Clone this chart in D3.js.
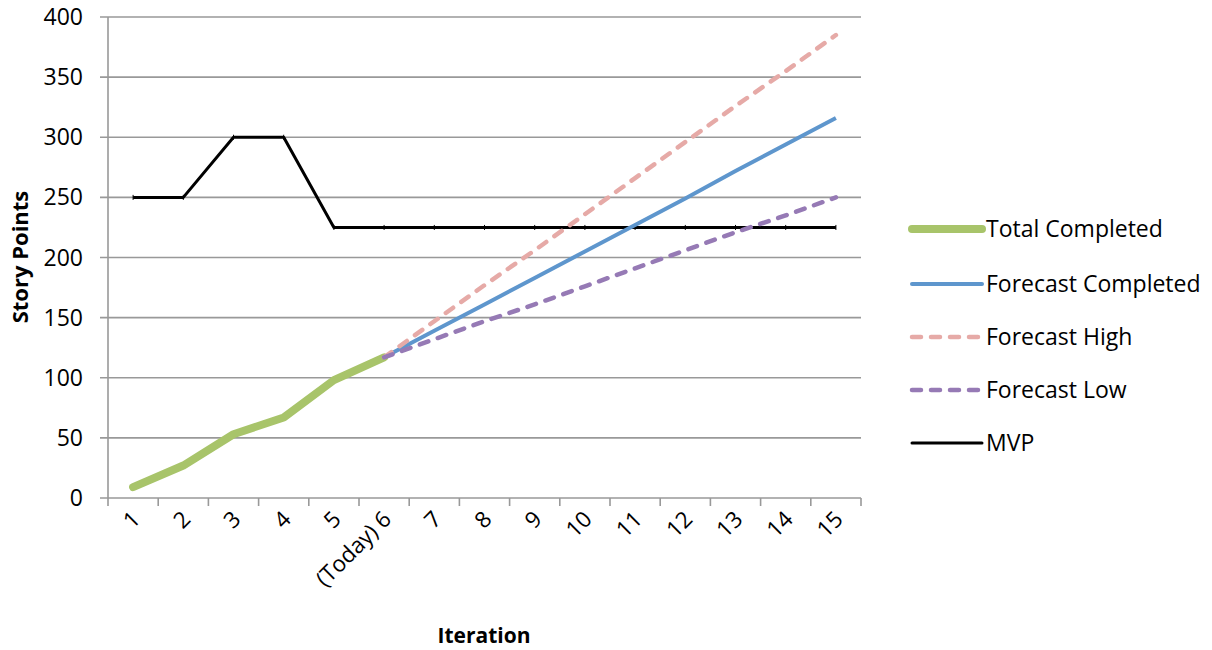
<!DOCTYPE html>
<html><head><meta charset="utf-8">
<script src="https://cdn.jsdelivr.net/npm/d3@7/dist/d3.min.js"></script>
<style>body{margin:0;background:#fff}svg{display:block}text{font-family:"Open Sans",sans-serif;fill:#000}</style>
</head><body><svg id="c" width="1212" height="650"></svg>
<script>
const categories = ["1","2","3","4","5","(Today) 6","7","8","9","10","11","12","13","14","15"];
const yTicks = [0,50,100,150,200,250,300,350,400];
const totalCompleted = [9,27,53,67,98,117,null,null,null,null,null,null,null,null,null];
const forecastCompleted = [null,null,null,null,null,117,139,161,183,205,227,249,272,294,316];
const forecastHigh = [null,null,null,null,null,117,147,177,206,236,266,296,326,355,385];
const forecastLow = [null,null,null,null,null,117,132,147,161,176,191,206,221,235,250];
const mvp = [250,250,300,300,225,225,225,225,225,225,225,225,225,225,225];

const series = [
  {name:"Total Completed", values: totalCompleted, color:"#a8c46a", width:8, dash:null},
  {name:"Forecast Completed", values: forecastCompleted, color:"#5e96cd", width:4, dash:null},
  {name:"Forecast High", values: forecastHigh, color:"#e6aaa7", width:4.5, dash:"9,10"},
  {name:"Forecast Low", values: forecastLow, color:"#967ab5", width:4.5, dash:"9,10"},
  {name:"MVP", values: mvp, color:"#000", width:3, dash:null}
];

const svg = d3.select("#c");
const L=108, R=861, T=17, B=498;
const x = d3.scaleBand().domain(categories).range([L,R]);
const y = d3.scaleLinear().domain([0,400]).range([B,T]);

svg.append("g").selectAll("line").data(yTicks).join("line")
  .attr("x1",L-8).attr("x2",R).attr("y1",d=>y(d)).attr("y2",d=>y(d))
  .attr("stroke","#999").attr("stroke-width",1.6);
svg.append("line").attr("x1",L).attr("x2",L).attr("y1",T).attr("y2",B+8).attr("stroke","#999").attr("stroke-width",1.6);
const bounds = categories.map(c=>x(c)).concat([R]);
svg.append("g").selectAll("line").data(bounds.slice(1)).join("line")
  .attr("x1",d=>d).attr("x2",d=>d).attr("y1",B).attr("y2",B+8).attr("stroke","#999").attr("stroke-width",1.6);

svg.append("g").selectAll("text").data(yTicks).join("text")
  .attr("x",83).attr("y",d=>y(d)).attr("dy","0.35em").attr("text-anchor","end")
  .style("font-size","23px").text(d=>d);

svg.append("g").selectAll("text").data(categories).join("text")
  .attr("transform",d=>`translate(${x(d)+x.bandwidth()/2+3},${B+17}) rotate(-45)`)
  .attr("text-anchor","end").attr("dy","0.35em")
  .style("font-size","22.5px").text(d=>d);

svg.append("text").attr("x",484).attr("y",643).attr("text-anchor","middle")
  .style("font-size","21px").style("font-weight","bold").text("Iteration");
svg.append("text").attr("transform","translate(28,257) rotate(-90)").attr("text-anchor","middle")
  .style("font-size","22px").style("font-weight","bold").text("Story Points");

const cx = d=>x(d)+x.bandwidth()/2;
const line = d3.line().defined(d=>d.v!=null).x(d=>cx(d.c)).y(d=>y(d.v));
const order = [4,0,1,2,3];
order.forEach(i=>{
  const s = series[i];
  const pts = categories.map((c,j)=>({c, v:s.values[j]}));
  svg.append("path").datum(pts).attr("d",line).attr("fill","none")
    .attr("stroke",s.color).attr("stroke-width",s.width)
    .attr("stroke-dasharray",s.dash).attr("stroke-linejoin","round")
    .attr("stroke-linecap", (i===0||s.dash) ? "round" : "butt");
  if(i===4){
    svg.append("g").selectAll("line").data(pts).join("line")
      .attr("x1",d=>cx(d.c)).attr("x2",d=>cx(d.c)).attr("y1",d=>y(d.v)-2.5).attr("y2",d=>y(d.v)+2.5)
      .attr("stroke","#000").attr("stroke-width",1);
  }
});

const lg = svg.append("g");
const ly = [229,284,337,390,443];
series.forEach((s,i)=>{
  lg.append("line").attr("x1",912).attr("x2",982).attr("y1",ly[i]).attr("y2",ly[i])
    .attr("stroke",s.color).attr("stroke-width",s.width)
    .attr("stroke-dasharray",s.dash).attr("stroke-linecap","round");
  lg.append("text").attr("x",986).attr("y",ly[i]).attr("dy","0.35em")
    .style("font-size","23px").text(s.name);
});
</script></body></html>
